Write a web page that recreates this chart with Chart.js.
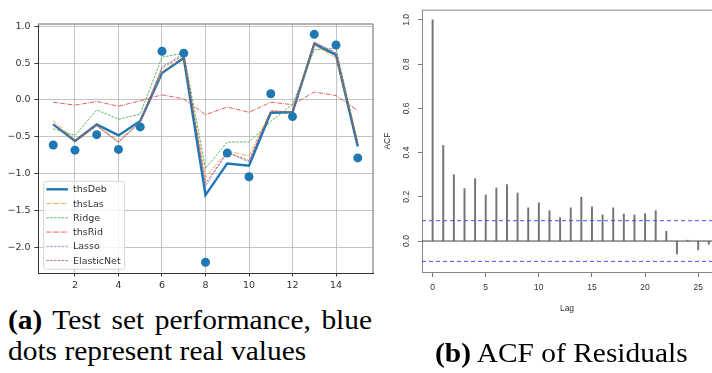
<!DOCTYPE html>
<html>
<head>
<meta charset="utf-8">
<script src="https://cdn.jsdelivr.net/npm/chart.js@4.4.1/dist/chart.umd.min.js"></script>
<style>
html,body{margin:0;padding:0;background:#fff;overflow:hidden}
body{width:712px;height:373px;position:relative}
canvas{position:absolute;top:0}
#chart-a{left:0}
#chart-b{left:380px}
.cap{position:absolute;font-family:'Liberation Serif','Times New Roman',serif;font-size:27px;line-height:31px;color:#000;white-space:nowrap;transform:scaleX(1.09);transform-origin:0 0}
#cap-a1{left:8px;top:305px;width:334px;text-align:justify;text-align-last:justify}
#cap-a2{left:8px;top:336px}
#cap-b{left:435px;top:338px}
</style>
</head>
<body>
<canvas id="chart-a" width="385" height="300"></canvas>
<canvas id="chart-b" width="332" height="320"></canvas>
<div class="cap" id="cap-a1"><b>(a)</b> Test set performance, blue</div>
<div class="cap" id="cap-a2">dots represent real values</div>
<div class="cap" id="cap-b"><b>(b)</b> ACF of Residuals</div>
<script>
// (a) test set
const xs=[1,2,3,4,5,6,7,8,9,10,11,12,13,14,15];
const realVals=[-0.61,-0.68,-0.47,-0.67,-0.365,0.66,0.635,-2.2,-0.72,-1.04,0.085,-0.225,0.89,0.745,-0.785];
const thsDeb=[-0.33,-0.555,-0.33,-0.48,-0.285,0.365,0.57,-1.29,-0.86,-0.89,-0.175,-0.167,0.76,0.61,-0.63];
const thsLas=[-0.28,-0.54,-0.34,-0.55,-0.29,0.38,0.58,-1.05,-0.69,-0.76,-0.15,-0.167,0.75,0.57,-0.56];
const ridge=[-0.39,-0.48,-0.135,-0.26,-0.19,0.58,0.635,-0.93,-0.57,-0.57,-0.29,-0.06,0.68,0.70,-0.58];
const thsRid=[-0.03,-0.07,-0.02,-0.085,-0.01,0.07,0.015,-0.2,-0.095,-0.167,-0.03,-0.063,0.108,0.06,-0.144];
const lasso=[-0.32,-0.57,-0.35,-0.58,-0.3,0.45,0.63,-1.17,-0.71,-0.84,-0.15,-0.16,0.79,0.64,-0.6];
const elasticNet=[-0.33,-0.56,-0.35,-0.57,-0.3,0.43,0.61,-1.13,-0.71,-0.82,-0.15,-0.16,0.78,0.63,-0.6];
const xTicksA=[2,4,6,8,10,12,14];
const yTicksA=[-2,-1.5,-1,-0.5,0,0.5,1];

// (b) acf
const lags=[0,1,2,3,4,5,6,7,8,9,10,11,12,13,14,15,16,17,18,19,20,21,22,23,24,25,26];
const acfVals=[1.0,0.432,0.30,0.237,0.282,0.208,0.24,0.255,0.217,0.15,0.173,0.137,0.106,0.15,0.198,0.155,0.118,0.15,0.122,0.118,0.124,0.137,0.044,-0.059,0.004,-0.04,-0.015];
const ciLevel=0.092;
const xTicksB=[0,5,10,15,20,25];
const yTicksB=[0,0.2,0.4,0.6,0.8,1.0];

const minus=v=>(v<0?'\u2212':'')+Math.abs(v).toFixed(1);
const pts=a=>a.map((v,i)=>({x:xs[i],y:v}));
const lineSet=(label,data,color,width,dash,order)=>({
  type:'line',label,data:pts(data),borderColor:color,borderWidth:width,borderDash:dash,
  pointRadius:0,fill:false,tension:0,order
});

const frame={
  id:'frame',
  afterDatasetsDraw(chart,args,o){
    const {ctx,chartArea:a}=chart;
    ctx.save();
    ctx.strokeStyle=o.color;ctx.lineWidth=o.width;
    ctx.beginPath();
    ctx.moveTo(a.left,a.top);ctx.lineTo(a.right,a.top);
    if(o.right){ctx.moveTo(a.right,a.top);ctx.lineTo(a.right,a.bottom);}
    ctx.stroke();
    ctx.restore();
  }
};

const boxLegend={
  id:'boxLegend',
  afterDraw(chart){
    const {ctx,chartArea:a}=chart;
    const sets=chart.data.datasets.filter(d=>d.type==='line');
    const w=81,h=88,x0=a.left+5.7,y0=a.bottom-3.7-h;
    ctx.save();
    ctx.fillStyle='rgba(255,255,255,0.8)';
    ctx.strokeStyle='#d6d6d6';ctx.lineWidth=1;
    ctx.beginPath();ctx.roundRect(x0,y0,w,h,2);ctx.fill();ctx.stroke();
    ctx.font='9.5px "DejaVu Sans"';ctx.textBaseline='middle';ctx.fillStyle='#333';
    sets.forEach((d,i)=>{
      const y=y0+8+i*14.25;
      ctx.strokeStyle=d.borderColor;ctx.lineWidth=d.borderWidth;ctx.setLineDash(d.borderDash||[]);
      ctx.beginPath();ctx.moveTo(x0+2.7,y);ctx.lineTo(x0+24.3,y);ctx.stroke();
      ctx.setLineDash([]);
      ctx.fillText(d.label,x0+29.3,y+0.5);
    });
    ctx.restore();
  }
};

const gridA={color:'rgba(176,176,176,0.75)',lineWidth:1,tickColor:'#333',tickLength:3.5};

new Chart(document.getElementById('chart-a'),{
  type:'scatter',
  data:{datasets:[
    {type:'scatter',label:'real',data:pts(realVals),backgroundColor:'#1f77b4',borderWidth:0,pointRadius:4.5,order:0},
    lineSet('thsDeb',thsDeb,'#1f77b4',2.4,[],6),
    lineSet('thsLas',thsLas,'rgba(255,127,14,0.7)',1,[4.4,1.1,0.8,1.1],5),
    lineSet('Ridge',ridge,'rgba(44,160,44,0.75)',1,[2.6,1.2],4),
    lineSet('thsRid',thsRid,'rgba(214,39,40,0.75)',1,[4.4,1.1,0.8,1.1],3),
    lineSet('Lasso',lasso,'rgba(148,103,189,0.75)',1,[2.6,1.2],2),
    lineSet('ElasticNet',elasticNet,'rgba(140,86,75,0.75)',1,[2.6,1.2],1)
  ]},
  options:{
    responsive:false,animation:false,
    layout:{padding:{top:24,right:12,bottom:5,left:0}},
    font:{family:'"DejaVu Sans"'},
    plugins:{legend:{display:false},tooltip:{enabled:false},frame:{color:'#999',width:1.5,right:true}},
    scales:{
      x:{type:'linear',min:0.3,max:15.7,
        afterBuildTicks:s=>{s.ticks=xTicksA.map(v=>({value:v}))},
        afterFit:s=>{s.height=22},
        grid:gridA,border:{color:'#333',width:1},
        ticks:{color:'#333',padding:3,font:{family:'"DejaVu Sans"',size:9.5},callback:v=>String(v)}},
      y:{type:'linear',min:-2.345,max:1.03,
        afterBuildTicks:s=>{s.ticks=yTicksA.map(v=>({value:v}))},
        afterFit:s=>{s.width=38},
        grid:gridA,border:{color:'#333',width:1},
        ticks:{color:'#333',padding:4,font:{family:'"DejaVu Sans"',size:9.5},callback:v=>minus(v)}}
    }
  },
  plugins:[frame,boxLegend]
});

const fontB={family:'"Liberation Sans", Arial, sans-serif',size:8.5};
new Chart(document.getElementById('chart-b'),{
  type:'scatter',
  data:{datasets:[
    {type:'bar',data:lags.map((l,i)=>({x:l,y:acfVals[i]})),backgroundColor:'rgba(70,70,70,0.75)',borderWidth:0,barThickness:1.3,order:1},
    {type:'line',data:[{x:-1,y:0},{x:26.3,y:0}],borderColor:'#444',borderWidth:1,pointRadius:0,order:0},
    {type:'line',data:[{x:-1,y:ciLevel},{x:26.3,y:ciLevel}],borderColor:'#4b4bff',borderWidth:1,borderDash:[4,3],pointRadius:0,order:0},
    {type:'line',data:[{x:-1,y:-ciLevel},{x:26.3,y:-ciLevel}],borderColor:'#4b4bff',borderWidth:1,borderDash:[4,3],pointRadius:0,order:0}
  ]},
  options:{
    responsive:false,animation:false,
    layout:{padding:{top:4,right:0,bottom:3,left:0}},
    plugins:{legend:{display:false},tooltip:{enabled:false},frame:{color:'#888',width:1,right:false}},
    scales:{
      x:{type:'linear',min:-1,max:26.3,offset:false,
        afterBuildTicks:s=>{s.ticks=xTicksB.map(v=>({value:v}))},
        afterFit:s=>{s.height=45},
        grid:{drawOnChartArea:false,offset:false,tickColor:'#777',tickLength:5},
        border:{color:'#888',width:1},
        title:{display:true,text:'Lag',color:'#333',font:fontB,padding:{top:0,bottom:3}},
        ticks:{color:'#333',padding:6,font:fontB,callback:v=>String(v)}},
      y:{type:'linear',min:-0.14,max:1.044,
        afterBuildTicks:s=>{s.ticks=yTicksB.map(v=>({value:v}))},
        afterFit:s=>{s.width=42},
        grid:{drawOnChartArea:false,tickColor:'#777',tickLength:4},
        border:{color:'#888',width:1},
        title:{display:true,text:'ACF',color:'#333',font:fontB,padding:{top:3,bottom:0}},
        ticks:{color:'#333',padding:5,minRotation:90,maxRotation:90,crossAlign:'center',font:fontB,callback:v=>v.toFixed(1)}}
    }
  },
  plugins:[frame]
});
</script>
</body>
</html>
